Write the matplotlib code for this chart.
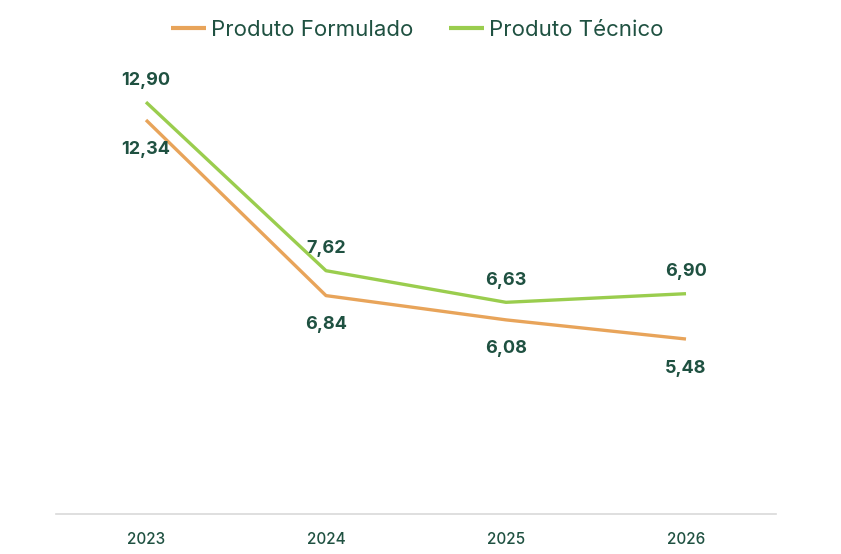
import matplotlib.pyplot as plt

plt.rcParams['font.family'] = ['Inter', 'DejaVu Sans']

anos = ["2023", "2024", "2025", "2026"]
formulado = [12.34, 6.84, 6.08, 5.48]
tecnico = [12.90, 7.62, 6.63, 6.90]

cor_texto = "#1f5141"
cor_form = "#E8A45A"
cor_tec = "#9ACD4E"

fig = plt.figure(figsize=(8.41, 5.54), dpi=100)
ax = fig.add_axes([56/841, 40/554, 720/841, 447/554])

x = range(len(anos))
ax.plot(x, formulado, color=cor_form, lw=2.4, label="Produto Formulado", solid_capstyle="butt")
ax.plot(x, tecnico, color=cor_tec, lw=2.4, label="Produto Técnico", solid_capstyle="butt")

def fmt(v):
    return f"{v:.2f}".replace(".", ",")

for i, v in enumerate(formulado):
    ax.annotate(fmt(v), (i, v), xytext=(0, -29), textcoords="offset pixels",
                ha="center", va="center", fontsize=13, fontweight="bold", color=cor_texto)
for i, v in enumerate(tecnico):
    ax.annotate(fmt(v), (i, v), xytext=(0, 22), textcoords="offset pixels",
                ha="center", va="center", fontsize=13, fontweight="bold", color=cor_texto)

ax.set_xlim(-0.5, 3.5)
ax.set_ylim(0, 14)
ax.set_xticks(list(x))
ax.set_xticklabels(anos, fontsize=11, color=cor_texto, fontweight="medium")
ax.tick_params(axis="x", length=0, pad=13)
ax.set_yticks([])
for s in ["top", "right", "left"]:
    ax.spines[s].set_visible(False)
ax.spines["bottom"].set_color("#d9d9d9")
ax.spines["bottom"].set_linewidth(1.2)

leg = fig.legend(loc="center", bbox_to_anchor=(417/841, 1 - 30/554), ncol=2, frameon=False,
                 fontsize=16, handlelength=1.6, handletextpad=0.2, columnspacing=1.6)
for t in leg.get_texts():
    t.set_color(cor_texto)
for h in leg.get_lines():
    h.set_linewidth(3)

fig.savefig("out.png", dpi=100, facecolor="white")
